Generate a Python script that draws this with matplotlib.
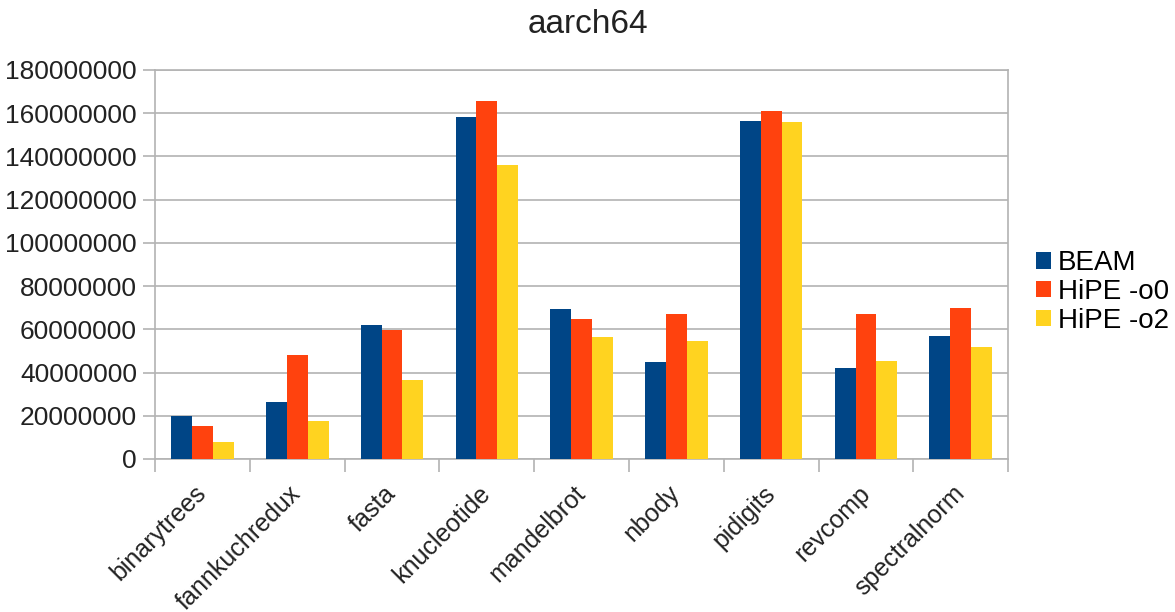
#----Modules----#
import numpy as np
import matplotlib.pyplot as plt

plt.rcParams['font.family'] = ['Liberation Sans', 'DejaVu Sans']

#----Data----#
benchmarks = ['binarytrees', 'fannkuchredux', 'fasta', 'knucleotide', 'mandelbrot',
              'nbody', 'pidigits', 'revcomp', 'spectralnorm']
beam = [20100000, 26300000, 61800000, 158200000, 69200000, 44900000, 156300000, 42000000, 57100000]
hipe_o0 = [15400000, 48300000, 59700000, 165500000, 64600000, 67100000, 160900000, 67100000, 69700000]
hipe_o2 = [8000000, 17800000, 36600000, 135800000, 56600000, 54500000, 155700000, 45500000, 51700000]
series_names = ['BEAM', 'HiPE -o0', 'HiPE -o2']
colors = ['#004586', '#ff420e', '#ffd320']
y_ticks = [0, 20000000, 40000000, 60000000, 80000000, 100000000,
           120000000, 140000000, 160000000, 180000000]

#----Chart----#
fig = plt.figure(figsize=(11.75, 6.12), dpi=100)
ax = fig.add_axes([0.132, 0.25, 0.726, 0.636])

x = np.arange(len(benchmarks))
width = 0.22
for i, (vals, name, col) in enumerate(zip([beam, hipe_o0, hipe_o2], series_names, colors)):
    ax.bar(x + (i - 1) * width, vals, width, color=col, label=name, zorder=3)

grid_col = '#b3b3b3'
ax.set_ylim(0, 180000000)
ax.set_xlim(-0.5, len(benchmarks) - 0.5)
ax.set_yticks(y_ticks)
ax.set_yticklabels([str(v) for v in y_ticks], fontsize=19, color='#222222')
ax.yaxis.grid(True, color=grid_col, linewidth=1.2, zorder=0)

# category boundaries get the tick marks, labels sit in the middle
ax.set_xticks(np.arange(-0.5, len(benchmarks)), minor=False)
ax.set_xticklabels([])
ax.set_xticks(x, minor=True)
ax.set_xticklabels(benchmarks, minor=True, rotation=45, ha='right', va='center',
                   rotation_mode='anchor', fontsize=18, color='#222222')
ax.tick_params(axis='x', which='major', length=9, color=grid_col, width=1.2, direction='out')
ax.tick_params(axis='x', which='minor', length=0, pad=22)
ax.tick_params(axis='y', length=9, color=grid_col, width=1.2, pad=4)

for side in ['left', 'bottom', 'right', 'top']:
    ax.spines[side].set_color(grid_col)
    ax.spines[side].set_linewidth(1.2)

fig.suptitle('aarch64', y=0.985, fontsize=24, color='#222222')

fig.legend(loc='center left', bbox_to_anchor=(0.872, 0.523), frameon=False,
           fontsize=20, handlelength=0.55, handleheight=0.55, handletextpad=0.25,
           labelspacing=0.1, borderaxespad=0)

plt.savefig('out.png', dpi=100)
